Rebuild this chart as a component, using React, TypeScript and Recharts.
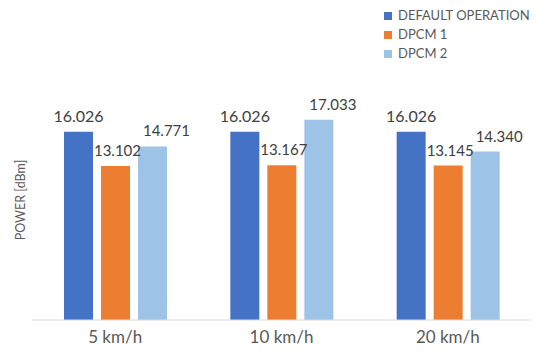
import React from "react";
import { BarChart, Bar, XAxis, YAxis, LabelList } from "recharts";

const categories = ["5 km/h", "10 km/h", "20 km/h"];
const defaultOperation = [16.026, 16.026, 16.026];
const dpcm1 = [13.102, 13.167, 13.145];
const dpcm2 = [14.771, 17.033, 14.34];
const seriesNames = ["DEFAULT OPERATION", "DPCM 1", "DPCM 2"];
const colors = ["#4472C4", "#ED7D31", "#9DC3E6"];

const data = categories.map((c, i) => ({
  name: c,
  d0: defaultOperation[i],
  d1: dpcm1[i],
  d2: dpcm2[i],
}));

const FONT = "Lato, 'Open Sans', sans-serif";

const fmt = (v: number) => v.toFixed(3);

const makeLabel = (dx: number, size: number) => (props: any) => {
  const { x, y, width, value } = props;
  return (
    <text
      x={x + width / 2 + dx}
      y={y - 10}
      textAnchor="middle"
      fontSize={size}
      fill="#404040"
      fontFamily={FONT}
    >
      {fmt(value)}
    </text>
  );
};

const LegendBox = () => (
  <div
    style={{
      position: "absolute",
      left: 384,
      top: 6,
      fontFamily: FONT,
      fontSize: 13,
      color: "#595959",
      lineHeight: "19px",
    }}
  >
    {seriesNames.map((n, i) => (
      <div key={n} style={{ display: "flex", alignItems: "center", height: 19 }}>
        <span
          style={{
            display: "inline-block",
            width: 8,
            height: 8,
            background: colors[i],
            marginRight: 6,
          }}
        />
        {n}
      </div>
    ))}
  </div>
);

export default function App() {
  return (
    <div style={{ position: "absolute", left: 0, top: 0, width: 550, height: 356, background: "#fff" }}>
      <BarChart
        width={550}
        height={356}
        data={data}
        margin={{ top: 85, right: 19, bottom: 6, left: 0 }}
        barSize={29}
        barGap={8}
      >
        <XAxis
          dataKey="name"
          axisLine={{ stroke: "#d9d9d9" }}
          tickLine={false}
          height={30}
          tick={{ fontSize: 17, fill: "#595959", fontFamily: FONT, dy: 3 }}
        />
        <YAxis
          domain={[0, 20]}
          width={32}
          axisLine={false}
          tickLine={false}
          tick={false}
          label={{
            content: () => (
              <text
                x={20}
                y={200}
                transform="rotate(-90 20 200)"
                textAnchor="middle"
                dominantBaseline="central"
                fontSize={12.5}
                fill="#595959"
                fontFamily={FONT}
              >
                POWER [dBm]
              </text>
            ),
          }}
        />
        <Bar dataKey="d0" name={seriesNames[0]} fill={colors[0]} isAnimationActive={false}>
          <LabelList dataKey="d0" content={makeLabel(0, 16)} />
        </Bar>
        <Bar dataKey="d1" name={seriesNames[1]} fill={colors[1]} isAnimationActive={false}>
          <LabelList dataKey="d1" content={makeLabel(2, 15)} />
        </Bar>
        <Bar dataKey="d2" name={seriesNames[2]} fill={colors[2]} isAnimationActive={false}>
          <LabelList dataKey="d2" content={makeLabel(14, 15)} />
        </Bar>
      </BarChart>
      <LegendBox />
    </div>
  );
}
